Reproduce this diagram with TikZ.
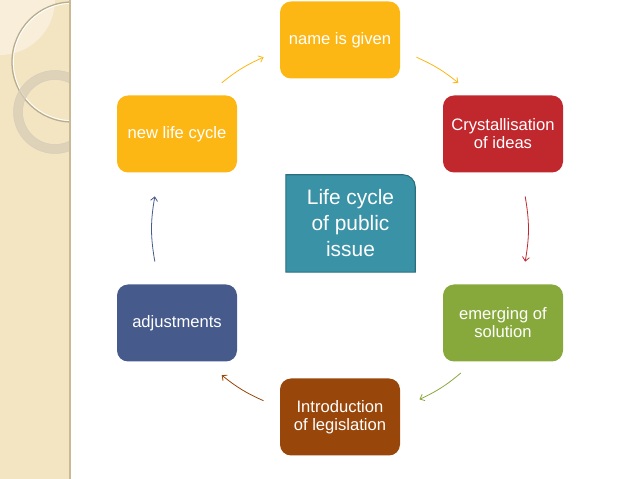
\documentclass[tikz,border=0pt]{standalone}
\usepackage{fontspec}
\setmainfont{Liberation Sans}
\usetikzlibrary{arrows.meta,backgrounds}
\definecolor{gold}{HTML}{FDB714}
\definecolor{crimson}{HTML}{C0282D}
\definecolor{leaf}{HTML}{87A93B}
\definecolor{rust}{HTML}{98460A}
\definecolor{slate}{HTML}{465A8C}
\definecolor{lagoon}{HTML}{3A92A6}
\definecolor{lagoonedge}{HTML}{29707F}
\definecolor{stripe}{HTML}{F3E4C2}
\definecolor{stripelight}{HTML}{F8EEDA}
\definecolor{stripeedge}{HTML}{C9B995}
\definecolor{ringgray}{HTML}{B9AD90}
\definecolor{ringpale}{HTML}{D8CEB6}
\begin{document}
\begin{tikzpicture}[x=1pt,y=1pt,
   stage/.style={rounded corners=11pt, minimum width=120pt, minimum height=77pt,
                 align=center, text=white, inner sep=0pt,
                 font=\fontsize{16.6}{18}\selectfont},
   flow/.style={-{Straight Barb[length=4pt,width=7pt]}, line width=0.8pt}]

\useasboundingbox (0,0) rectangle (638,479);

% side stripe
\fill[stripe] (0,0) rectangle (70,479);
\fill[stripelight] (0,479) -- (55,479) arc[start angle=0,end angle=-90,radius=55] -- cycle;
\begin{scope}
  \clip (0,0) rectangle (69,479);
  \draw[ringgray, line width=1.3pt] (72,417) circle (60);
  \draw[white, line width=0.8pt] (72,417) circle (58.6);
  \draw[ringpale, line width=9pt, opacity=0.75] (55,367) circle (37);
  \draw[ringgray!60, line width=0.5pt] (55,367) circle (41.5) (55,367) circle (32.5);
\end{scope}
\draw[stripeedge, line width=1.5pt] (70,0) -- (70,479);

\coordinate (c) at (340,250);

\node[stage, fill=gold]    (name)   at (340,439) {name is given};
\node[stage, fill=crimson] (ideas)  at (503,345) {Crystallisation\\of ideas};
\node[stage, fill=leaf]    (answer) at (503,156) {emerging of\\solution};
\node[stage, fill=rust]    (law)    at (340,62)  {Introduction\\of legislation};
\node[stage, fill=slate]   (adjust) at (177,156) {adjustments};
\node[stage, fill=gold]    (renew)  at (177,345) {new life cycle};

\node[minimum width=129pt, minimum height=97pt, align=center, text=white,
      font=\fontsize{20.9}{26}\selectfont] (issue) at (350.5,255.5)
      {Life cycle\\of public\\issue};
\begin{scope}[on background layer]
  \filldraw[fill=lagoon, draw=lagoonedge, line width=1.1pt]
    (issue.south west) -- (issue.north west) -- ([xshift=-12pt]issue.north east)
    arc[start angle=90, end angle=0, radius=12pt] -- (issue.south east) -- cycle;
\end{scope}

% arrows round the cycle
\path (c) ++(129:188) coordinate (r1) (c) ++(114:188) coordinate (r2);
\path (c) ++(66:188)  coordinate (n1) (c) ++(51:188)  coordinate (n2);
\path (c) ++(10:188)  coordinate (i1) (c) ++(-10:188) coordinate (i2);
\path (c) ++(-50:188) coordinate (s1) (c) ++(-65:188) coordinate (s2);
\path (c) ++(-114:188) coordinate (l1) (c) ++(-129:188) coordinate (l2);
\path (c) ++(190:188) coordinate (a1) (c) ++(170:188) coordinate (a2);

\draw[flow, gold]    (r1) to[bend left=7.5] (r2);
\draw[flow, gold]    (n1) to[bend left=7.5] (n2);
\draw[flow, crimson] (i1) to[bend left=10]  (i2);
\draw[flow, leaf]    (s1) to[bend left=7.5] (s2);
\draw[flow, rust]    (l1) to[bend left=7.5] (l2);
\draw[flow, slate]   (a1) to[bend left=10]  (a2);

\end{tikzpicture}
\end{document}
